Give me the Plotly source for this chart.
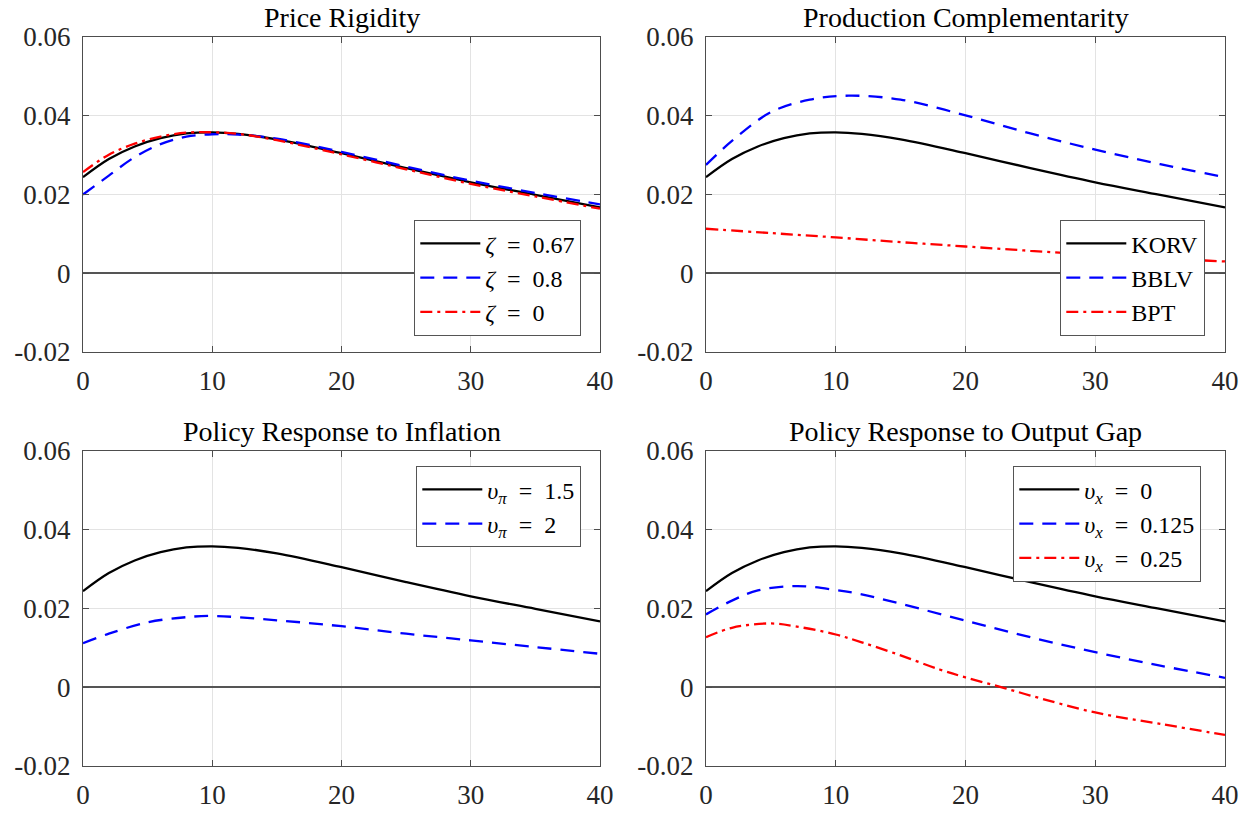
import plotly.graph_objects as go
from plotly.subplots import make_subplots

# ---------------- data ----------------
T_BASE = [0, 2, 4, 6, 8, 10, 12, 15, 20, 25, 30, 35, 40]
BASE = [0.0244, 0.0290, 0.0322, 0.0343, 0.0355, 0.0358, 0.0354, 0.0340, 0.0305, 0.0267, 0.0231, 0.0199, 0.0167]

# Price rigidity
T_PR = [0, 2, 4, 6, 8, 10, 12, 15, 20, 25, 30, 35, 40]
ZETA_08 = [0.0200, 0.0248, 0.0295, 0.0328, 0.0347, 0.0353, 0.0352, 0.0342, 0.0308, 0.0271, 0.0235, 0.0204, 0.0175]
ZETA_0 = [0.0257, 0.0301, 0.0329, 0.0347, 0.0357, 0.0358, 0.0354, 0.0338, 0.0302, 0.0264, 0.0227, 0.0195, 0.0164]

# Production complementarity
T_BBLV = [0, 2, 5, 8, 11, 15, 20, 25, 30, 35, 40]
BBLV = [0.0275, 0.0336, 0.0409, 0.0441, 0.0451, 0.0441, 0.0401, 0.0355, 0.0314, 0.0277, 0.0244]
T_BPT = [0, 5, 10, 15, 20, 25, 30, 35, 40]
BPT = [0.0113, 0.0102, 0.0091, 0.0079, 0.0068, 0.0057, 0.0047, 0.0038, 0.0030]

# Policy response to inflation
T_PI2 = [0, 2, 5, 8, 10, 15, 20, 25, 30, 35, 40]
PI_2 = [0.0112, 0.0136, 0.0165, 0.0178, 0.0181, 0.0170, 0.0155, 0.0136, 0.0119, 0.0102, 0.0085]

# Policy response to output gap
T_X125 = [0, 2, 4, 7, 10, 12, 15, 20, 25, 30, 35, 40]
X_0125 = [0.0185, 0.0220, 0.0246, 0.0257, 0.0247, 0.0236, 0.0212, 0.0169, 0.0127, 0.0089, 0.0055, 0.0024]
T_X25 = [0, 2, 5, 7, 10, 12, 15, 18, 20, 23, 25, 30, 35, 40]
X_025 = [0.0127, 0.0151, 0.0162, 0.0154, 0.0134, 0.0114, 0.0081, 0.0045, 0.0025, -0.0002, -0.0021, -0.0064, -0.0093, -0.0121]

TITLES = ["Price Rigidity", "Production Complementarity",
          "Policy Response to Inflation", "Policy Response to Output Gap"]
X_TICKS = [0, 10, 20, 30, 40]
Y_TICKS = [-0.02, 0, 0.02, 0.04, 0.06]
Y_TICK_TEXT = ["-0.02", "0", "0.02", "0.04", "0.06"]

EQ = "\u2002=\u2002"
NAMES_PR = ["<i>ζ</i>" + EQ + "0.67", "<i>ζ</i>" + EQ + "0.8", "<i>ζ</i>" + EQ + "0"]
NAMES_PC = ["KORV", "BBLV", "BPT"]
NAMES_PI = ["<i>υ</i><sub><i>π</i></sub>" + EQ + "1.5", "<i>υ</i><sub><i>π</i></sub>" + EQ + "2"]
NAMES_PX = ["<i>υ</i><sub><i>x</i></sub>" + EQ + "0", "<i>υ</i><sub><i>x</i></sub>" + EQ + "0.125",
            "<i>υ</i><sub><i>x</i></sub>" + EQ + "0.25"]

# ---------------- styles ----------------
FONT = "Liberation Serif"
BLACK = dict(color="black", width=2.3)
BLUE = dict(color="#0000ff", width=2.3, dash="14px,9px")
RED = dict(color="#ff0000", width=2.3, dash="12px,5px,3px,5px")

fig = make_subplots(rows=2, cols=2)

def add(row, col, x, y, name, line, legend):
    fig.add_trace(go.Scatter(x=x, y=y, name=name, mode="lines", line=dict(**line, shape="spline"),
                             legend=legend), row=row, col=col)

add(1, 1, T_BASE, BASE, NAMES_PR[0], BLACK, "legend")
add(1, 1, T_PR, ZETA_08, NAMES_PR[1], BLUE, "legend")
add(1, 1, T_PR, ZETA_0, NAMES_PR[2], RED, "legend")

add(1, 2, T_BASE, BASE, NAMES_PC[0], BLACK, "legend2")
add(1, 2, T_BBLV, BBLV, NAMES_PC[1], BLUE, "legend2")
add(1, 2, T_BPT, BPT, NAMES_PC[2], RED, "legend2")

add(2, 1, T_BASE, BASE, NAMES_PI[0], BLACK, "legend3")
add(2, 1, T_PI2, PI_2, NAMES_PI[1], BLUE, "legend3")

add(2, 2, T_BASE, BASE, NAMES_PX[0], BLACK, "legend4")
add(2, 2, T_X125, X_0125, NAMES_PX[1], BLUE, "legend4")
add(2, 2, T_X25, X_025, NAMES_PX[2], RED, "legend4")

W, H = 1252, 813
xdom = {1: [83 / W, 600 / W], 2: [706 / W, 1225 / W]}
ydom = {1: [1 - 352 / H, 1 - 37 / H], 2: [1 - 766 / H, 1 - 451 / H]}

AX = "#4d4d4d"
for r in (1, 2):
    for c in (1, 2):
        fig.update_xaxes(row=r, col=c, domain=xdom[c], range=[0, 40], tickvals=X_TICKS,
                         automargin=False,
                         showline=True, linecolor=AX, linewidth=1.3, mirror="ticks",
                         ticks="inside", ticklen=6, tickcolor=AX, showgrid=True,
                         gridcolor="#e3e3e3", gridwidth=1, zeroline=False,
                         ticklabelstandoff=4,
                         tickfont=dict(family=FONT, size=27, color="#262626"))
        fig.update_yaxes(row=r, col=c, domain=ydom[r], range=[-0.02, 0.06],
                         tickvals=Y_TICKS, ticktext=Y_TICK_TEXT, automargin=False,
                         showline=True, linecolor=AX, linewidth=1.3, mirror="ticks",
                         ticks="inside", ticklen=6, tickcolor=AX, showgrid=True,
                         gridcolor="#e3e3e3", gridwidth=1, zeroline=True,
                         zerolinecolor="#555555", zerolinewidth=2,
                         ticklabelstandoff=6,
                         tickfont=dict(family=FONT, size=27, color="#262626"))

title_pos = [((83 + 600) / 2 / W, 1 - 17 / H), ((706 + 1225) / 2 / W, 1 - 17 / H),
             ((83 + 600) / 2 / W, 1 - 431 / H), ((706 + 1225) / 2 / W, 1 - 431 / H)]
for t, (x, y) in zip(TITLES, title_pos):
    fig.add_annotation(text=t, x=x, y=y, xref="paper", yref="paper", showarrow=False,
                       xanchor="center", yanchor="middle",
                       font=dict(family=FONT, size=28, color="black"))

LEG = dict(bgcolor="white", bordercolor="#555555", borderwidth=1.3,
           font=dict(family=FONT, size=24, color="black"), tracegroupgap=0,
           itemwidth=60)
fig.update_layout(
    template="none",
    width=W, height=H, margin=dict(l=0, r=0, t=0, b=0, autoexpand=False),
    plot_bgcolor="white", paper_bgcolor="white", showlegend=True,
    legend=dict(**LEG, x=581 / W, y=1 - 336 / H, xanchor="right", yanchor="bottom"),
    legend2=dict(**LEG, x=1205 / W, y=1 - 336 / H, xanchor="right", yanchor="bottom"),
    legend3=dict(**LEG, x=581 / W, y=1 - 466 / H, xanchor="right", yanchor="top"),
    legend4=dict(**LEG, x=1201 / W, y=1 - 466 / H, xanchor="right", yanchor="top"),
)

fig.write_html("out.html", config={"displayModeBar": False},
               post_script="document.body.style.margin='0';")
